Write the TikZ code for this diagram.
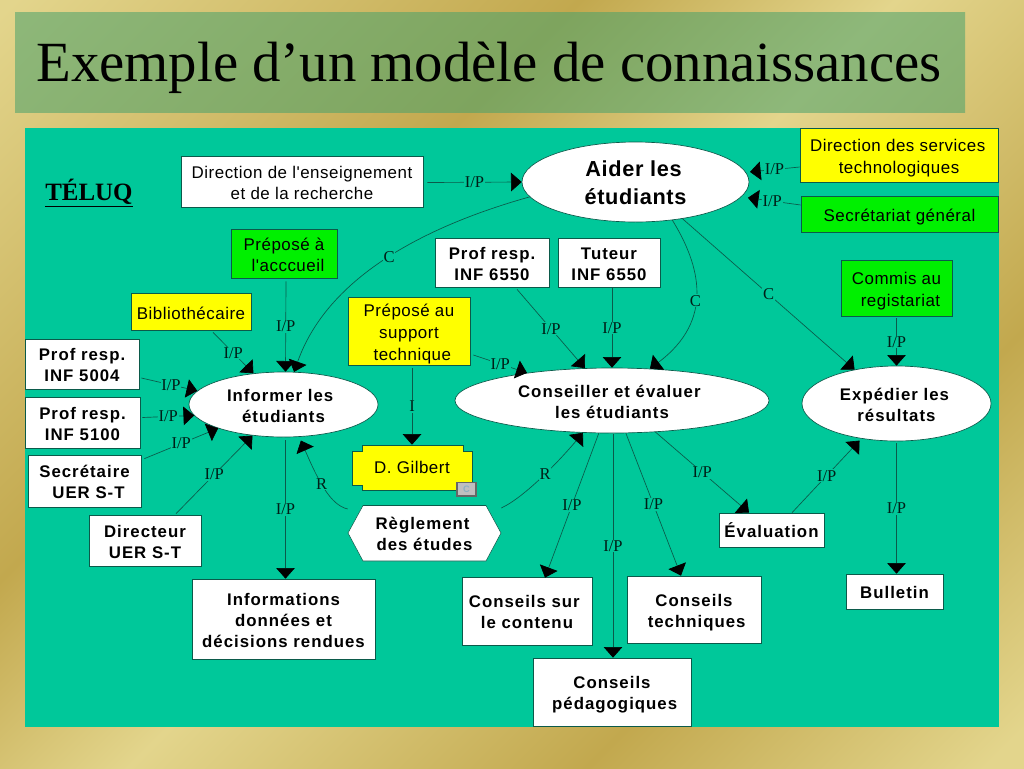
\documentclass[tikz,border=0pt]{standalone}
\usepackage{fontspec}
\usetikzlibrary{arrows.meta,shapes.geometric,calc}
\setmainfont{Liberation Sans}
\newfontfamily\serifF{Liberation Serif}
\newfontfamily\regF[LetterSpace=3]{Liberation Sans}
\newfontfamily\boldF[LetterSpace=6]{Liberation Sans Bold}
\newfontfamily\boldG[LetterSpace=3]{Liberation Sans Bold}
\definecolor{panel}{HTML}{00C89A}
\definecolor{edge}{HTML}{0B5A4A}
\definecolor{gl}{HTML}{E3D58C}
\definecolor{gd}{HTML}{C2A84E}
\definecolor{tl}{HTML}{8EB87A}
\definecolor{td}{HTML}{7EA45E}
\definecolor{ye}{HTML}{FFFF00}
\definecolor{gr}{HTML}{00F000}
\pgfdeclarehorizontalshading{bgshade}{100bp}{color(0bp)=(gl); color(15bp)=(gl); color(37.5bp)=(gd); color(50bp)=(gl); color(68.2bp)=(gd); color(84bp)=(gl); color(100bp)=(gl)}
\pgfdeclarehorizontalshading{ttshade}{100bp}{color(0bp)=(tl); color(15bp)=(tl); color(37.5bp)=(td); color(50bp)=(tl); color(68.2bp)=(td); color(84bp)=(tl); color(100bp)=(tl)}
\tikzset{
  x=0.75pt,y=-0.75pt,
  base/.style={draw=edge,line width=0.5pt,inner sep=0pt,text=black,font=\regF\fontsize{12.7}{16.2}\selectfont},
  wb/.style={base,fill=white,font=\boldF\fontsize{12.6}{15.7}\selectfont},
  yb/.style={base,fill=ye},
  gb/.style={base,fill=gr},
  wr/.style={base,fill=white},
  ell/.style={wb,shape=ellipse},
  plain/.style={inner sep=0pt,align=center},
  lab/.style={fill=panel,inner sep=0.6pt,text=black!85!panel,font=\serifF\fontsize{12.4}{13}\selectfont},
  link/.style={draw=edge,line width=0.5pt,-{Triangle[width=14pt,length=8pt,color=black]}},
}
\newcommand{\bxnode}[7]{\node[#2,minimum width={(#5-#3)*0.75pt},minimum height={(#6-#4)*0.75pt}] (#1) at ({(#3+#5)/2},{(#4+#6)/2}) {\raisebox{-2.4pt}[\height][\depth]{\begin{tabular}{@{}c@{}}#7\end{tabular}}};}
\begin{document}
\begin{tikzpicture}
\useasboundingbox (0,0) rectangle (1024,768);
\shade[shading=bgshade,shading angle=-45] (0,0) rectangle (1024,768);
\begin{scope}
\clip (15,12) rectangle (965,112);
\shade[shading=ttshade,shading angle=-45] (0,0) rectangle (1024,768);
\end{scope}
\node[font=\serifF\fontsize{42.6}{44}\selectfont,inner sep=0pt] (title) at (489,68) {Exemple d’un modèle de connaissances};
\fill[panel] (25,128) rectangle (999,727);
\node[font=\serifF\bfseries\fontsize{18.7}{20}\selectfont,inner sep=0pt] (teluq) at (89,193) {\underline{TÉLUQ}};

\bxnode{den}{wr}{181}{156}{423}{207}{Direction de l'enseignement\\et de la recherche}
\bxnode{aider}{ell,font=\boldG\fontsize{16.3}{21}\selectfont}{522}{142}{749}{222}{Aider les\hspace*{3pt}\\étudiants}
\bxnode{dst}{yb}{800}{128}{998}{182}{Direction des services\hspace*{2pt}\\technologiques}
\bxnode{sg}{gb}{801}{196}{998}{232}{Secrétariat général}
\bxnode{acc}{gb}{231}{229}{337}{278}{Préposé à\\\hspace*{6pt}l'acccueil}
\bxnode{bib}{yb}{131}{293}{251}{330}{Bibliothécaire}
\bxnode{pa}{wb}{25}{339}{139}{389}{Prof resp.\\INF 5004}
\bxnode{pb}{wb}{25}{397}{140}{448}{Prof resp.\\INF 5100}
\bxnode{sec}{wb}{28}{455}{141}{507}{Secrétaire\\\hspace*{6pt}UER S-T}
\bxnode{dir}{wb}{89}{515}{201}{566}{Directeur\\UER S-T}
\bxnode{inf}{ell}{189}{372}{378}{437}{Informer les\hspace*{5pt}\\étudiants}
\bxnode{idd}{wb}{192}{579}{375}{659}{Informations\\données et\\décisions rendues}
\bxnode{pc}{wb}{435}{238}{549}{287}{Prof resp.\\INF 6550}
\bxnode{tut}{wb}{558}{238}{660}{287}{Tuteur\\INF 6550}
\bxnode{sup}{yb}{348}{297}{470}{365}{Préposé au\\support\\\hspace*{5pt}technique}
\bxnode{con}{ell}{455}{368}{769}{433}{Conseiller et évaluer\hspace*{4pt}\\les étudiants}
\bxnode{exp}{ell}{802}{366}{991}{441}{Expédier les\hspace*{3pt}\\résultats}
\bxnode{com}{gb}{841}{260}{952}{316}{Commis au\\\hspace*{6pt}registariat}
\bxnode{csc}{wb}{462}{577}{592}{645}{Conseils sur\hspace*{4pt}\\le contenu}
\bxnode{cst}{wb}{627}{576}{761}{643}{Conseils\\\hspace*{4pt}techniques}
\bxnode{csp}{wb}{533}{658}{691}{726}{Conseils\\\hspace*{4pt}pédagogiques}
\bxnode{eva}{wb}{719}{513}{824}{547}{Évaluation}
\bxnode{bul}{wb}{846}{574}{943}{609}{Bulletin}

% D. Gilbert
\filldraw[fill=ye,draw=edge,line width=0.5pt] (352,451)--(362,451)--(362,445)--(463,445)--(463,451)--(472,451)--(472,485)--(463,485)--(463,490)--(362,490)--(362,485)--(352,485)--cycle;
\node[plain,minimum width=90pt,minimum height=33.75pt,font=\regF\fontsize{12.7}{16}\selectfont] (gil) at (412,467.5) {D. Gilbert};
\filldraw[fill=black!25,draw=black!60,line width=0.9pt] (457,482.5) rectangle (476,496);
\node[font=\fontsize{7}{8}\bfseries\selectfont,text=cyan!50!black!55,inner sep=0pt] (icon) at (466.5,489.5) {C};

% Règlement
\filldraw[fill=white,draw=edge,line width=0.4pt] (348,533)--(363,505.5)--(486,505.5)--(501,533)--(486,561)--(363,561)--cycle;
\node[plain,minimum width=114.75pt,minimum height=41.6pt,font=\boldF\fontsize{12.6}{15.7}\selectfont] (reg) at (424.5,533) {\raisebox{-2.4pt}[\height][\depth]{\begin{tabular}{@{}c@{}}Règlement\hspace*{3pt}\\des études\end{tabular}}};

% connectors
\draw[link] ($(den.east)+(4,1)$) -- node[lab]{I/P} (aider.west);
\draw[link,shorten >=3pt] ($(dst.west)+(0,12)$) -- node[lab,pos=.47]{I/P} (aider.5);
\draw[link,shorten >=5pt] ($(sg.west)+(0,-9)$) -- node[lab,pos=.48]{I/P} (aider.-8);
\draw[link] ($(acc.south)+(2,3)$) -- node[lab]{I/P} ($(inf.north)+(2,0)$);
\draw[link] (aider.188) .. controls (440,222) and (330,270) .. node[lab,pos=.51]{C} (inf.72);
\draw[link] ($(bib.south)+(22,2)$) -- node[lab]{I/P} (inf.134);
\draw[link] ($(pa.east)+(2,14)$) -- node[lab,pos=.53]{I/P} (inf.171);
\draw[link] ($(pb.east)+(2,-5)$) -- node[lab,pos=.5]{I/P} (inf.187);
\draw[link] ($(sec.north east)+(3,4)$) -- node[lab]{I/P} (inf.200);
\draw[link] ($(dir.north)+(31,-1)$) -- node[lab]{I/P} (inf.225);
\draw[link] ($(inf.south)+(2,3)$) -- node[lab]{I/P} ($(idd.north)+(2,0)$);
\draw[link,shorten >=3pt] ($(reg.north west)+(0,4)$) .. controls (330,505) and (318,480) .. node[lab,pos=.55]{R} (inf.-64);
\draw[link] ($(sup.south)+(3,3)$) -- node[lab]{I} (gil.north);
\draw[link] ($(sup.east)+(3,24)$) -- node[lab]{I/P} (con.162);
\draw[link] ($(pc.south)+(25,2)$) -- node[lab]{I/P} (con.130);
\draw[link] ($(tut.south)+(3,1)$) -- node[lab]{I/P} (con.north);
\draw[link] (aider.-46) .. controls (700,265) and (715,320) .. node[lab,pos=.55]{C} (con.40);
\draw[link] (aider.-38) -- node[lab]{C} (exp.141);
\draw[link] ($(com.south)+(0,2)$) -- node[lab]{I/P} (exp.north);
\draw[link] ($(exp.south)+(0,2)$) -- node[lab]{I/P} ($(bul.north)+(2,0)$);
\draw[link,shorten >=2pt] ($(eva.north)+(20.5,0)$) -- node[lab]{I/P} (exp.225);
\draw[link] (con.-36) -- node[lab]{I/P} ($(eva.north)+(-22.5,0)$);
\draw[link] (con.-67) -- node[lab]{I/P} ($(cst.north)+(-13,0)$);
\draw[link] ($(con.south)+(1,1)$) -- node[lab]{I/P} ($(csp.north)+(1,0)$);
\draw[link] (con.-112) -- node[lab]{I/P} ($(csc.north)+(18,1)$);
\draw[link] ($(reg.north east)+(0,3)$) .. controls (525,497) and (560,460) .. node[lab,pos=.53]{R} (con.228);
\end{tikzpicture}
\end{document}
